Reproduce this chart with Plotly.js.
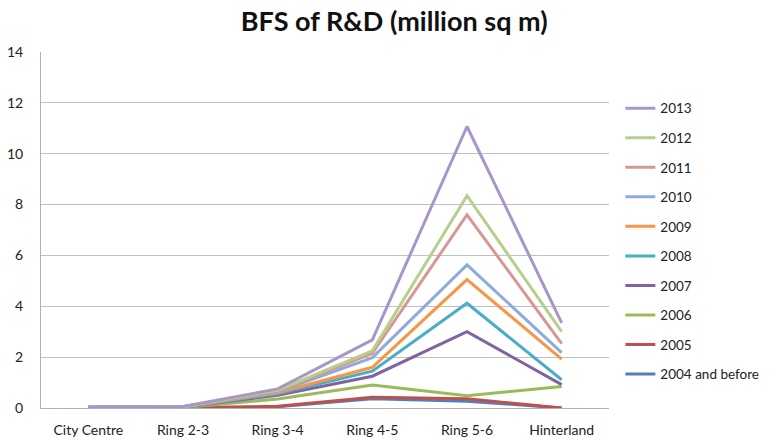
<!DOCTYPE html>
<html>
<head>
<meta charset="utf-8">
<script src="https://cdn.plot.ly/plotly-3.0.1.min.js"></script>
<style>html,body{margin:0;padding:0;background:#fff;}#chart{width:776px;height:440px;}</style>
</head>
<body>
<div id="chart"></div>
<script>
const categories = ["City Centre", "Ring 2-3", "Ring 3-4", "Ring 4-5", "Ring 5-6", "Hinterland"];
const seriesNames = ["2004 and before", "2005", "2006", "2007", "2008", "2009", "2010", "2011", "2012", "2013"];
const v2004 = [0.03, 0.02, 0.05, 0.36, 0.27, 0.0];
const v2005 = [0.0, 0.0, 0.07, 0.42, 0.36, 0.0];
const v2006 = [0.01, 0.02, 0.35, 0.9, 0.48, 0.85];
const v2007 = [0.01, 0.03, 0.5, 1.25, 3.0, 0.92];
const v2008 = [0.02, 0.03, 0.56, 1.45, 4.12, 1.11];
const v2009 = [0.02, 0.04, 0.6, 1.6, 5.05, 1.92];
const v2010 = [0.03, 0.04, 0.64, 1.98, 5.63, 2.18];
const v2011 = [0.03, 0.05, 0.67, 2.15, 7.6, 2.53];
const v2012 = [0.04, 0.05, 0.7, 2.25, 8.35, 3.0];
const v2013 = [0.05, 0.06, 0.75, 2.68, 11.07, 3.35];
const seriesValues = [v2004, v2005, v2006, v2007, v2008, v2009, v2010, v2011, v2012, v2013];
const colors = ["#4F81BD", "#C0504D", "#9BBB59", "#8064A2", "#4BACC6", "#F79646", "#8EACDB", "#D99694", "#B5D08B", "#A896C8"];

const traces = seriesNames.map((name, i) => ({
  type: "scatter",
  mode: "lines",
  name: name,
  x: categories,
  y: seriesValues[i],
  legendgroup: "g" + i,
  legendrank: 1000 - i,
  line: { color: colors[i], width: 3 }
}));

const layout = {
  width: 776,
  height: 440,
  margin: { l: 41, r: 164, t: 52, b: 32 },
  paper_bgcolor: "#fff",
  plot_bgcolor: "#fff",
  font: { family: "Lato, 'Open Sans', sans-serif", size: 13, color: "#222" },
  title: {
    text: "<b>BFS of R&D (million sq m)</b>",
    x: 0.508, xanchor: "center", y: 0.952, yanchor: "middle",
    font: { family: "Lato, sans-serif", size: 27, color: "#111" }
  },
  xaxis: {
    type: "category",
    range: [-0.5, 5.5],
    showgrid: false,
    showline: true,
    linecolor: "#b0b0b0",
    linewidth: 1,
    ticks: "",
    ticklabelstandoff: 9,
    tickfont: { size: 14, color: "#222" },
    fixedrange: true
  },
  yaxis: {
    range: [0, 14],
    dtick: 2,
    showgrid: true,
    gridcolor: "#c0c0c0",
    gridwidth: 1,
    showline: true,
    linecolor: "#b0b0b0",
    zeroline: false,
    ticks: "",
    ticklabelstandoff: 14,
    tickfont: { size: 14, color: "#222" },
    fixedrange: true
  },
  showlegend: true,
  legend: {
    x: 1.02, xanchor: "left",
    y: 0.468, yanchor: "middle",
    traceorder: "grouped",
    tracegroupgap: 9,
    itemwidth: 30,
    font: { size: 13.5, color: "#222" },
    bgcolor: "rgba(0,0,0,0)"
  }
};

Plotly.newPlot("chart", traces, layout, { displayModeBar: false, staticPlot: true });
</script>
</body>
</html>
